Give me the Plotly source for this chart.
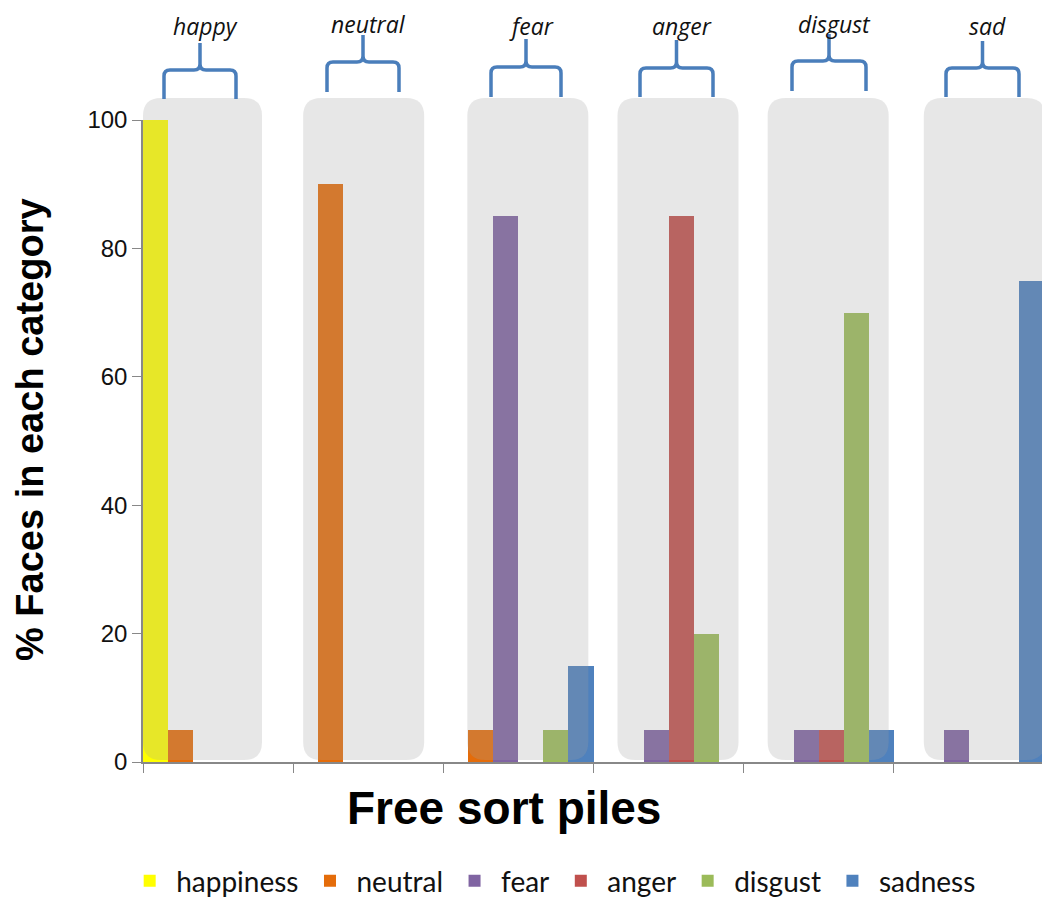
import plotly.graph_objects as go

# ---- data ----
piles = ["happy", "neutral", "fear", "anger", "disgust", "sad"]
emotions = ["happiness", "neutral", "fear", "anger", "disgust", "sadness"]
happiness = [100, 0, 0, 0, 0, 0]
neutral = [5, 90, 5, 0, 0, 0]
fear = [0, 0, 85, 5, 5, 5]
anger = [0, 0, 0, 85, 5, 0]
disgust = [0, 0, 5, 20, 70, 0]
sadness = [0, 0, 15, 0, 5, 75]
y_ticks = [0, 20, 40, 60, 80, 100]

series = [happiness, neutral, fear, anger, disgust, sadness]
colors = ["#ffff00", "#e46c0a", "#8064a2", "#c0504d", "#9bbb59", "#4f81bd"]

# ---- layout geometry (pixels, in reference-image coordinates) ----
OFF = 8  # page body margin
W, H = 1050 - OFF, 900 - OFF
L, R, T, B = 143, 1044, 120, 762
PW, PH = R - L, B - T
GW = PW / len(piles)


def px(x):
    return (x - L) / PW


def py(y):
    return (B - y) / PH


fig = go.Figure()
for name, vals, col in zip(emotions, series, colors):
    fig.add_trace(go.Bar(x=piles, y=vals, name=name, marker=dict(color=col, line=dict(width=0))))

shapes = []
annotations = []

# gray rounded boxes over each pile (semi-transparent overlay)
box_off = [0, 10, 24, 24, 24, 30]
box_w = [119, 121, 121, 121, 121, 121]
for i in range(len(piles)):
    x0 = L + i * GW + box_off[i]
    x1 = x0 + box_w[i]
    y0, y1 = 98, 760
    r = 18
    path = (f"M {px(x0)},{py(y0 + r)} "
            f"Q {px(x0)},{py(y0)} {px(x0 + r)},{py(y0)} "
            f"L {px(x1 - r)},{py(y0)} "
            f"Q {px(x1)},{py(y0)} {px(x1)},{py(y0 + r)} "
            f"L {px(x1)},{py(y1 - r)} "
            f"Q {px(x1)},{py(y1)} {px(x1 - r)},{py(y1)} "
            f"L {px(x0 + r)},{py(y1)} "
            f"Q {px(x0)},{py(y1)} {px(x0)},{py(y1 - r)} Z")
    shapes.append(dict(type="path", path=path, xref="paper", yref="paper",
                       fillcolor="rgba(160,160,160,0.25)", line=dict(width=0), layer="above"))

# braces + labels
brace_left = [164, 327, 491, 640, 792, 946]
brace_right = [236, 399, 561, 713, 866, 1019]
brace_top = [43, 35, 39, 40, 34, 41]
brace_bar = [70, 62, 67, 68, 61, 68]
brace_bottom = [99, 92, 97, 97, 91, 97]
label_y = [26, 24, 26, 26, 24, 26]
for i, p in enumerate(piles):
    xl, xr = brace_left[i], brace_right[i]
    xc = (xl + xr) / 2
    yt, yb, ybot = brace_top[i], brace_bar[i], brace_bottom[i]
    r = 6
    path = (f"M {px(xl)},{py(ybot)} L {px(xl)},{py(yb + r)} "
            f"Q {px(xl)},{py(yb)} {px(xl + r)},{py(yb)} "
            f"L {px(xc - r)},{py(yb)} Q {px(xc)},{py(yb)} {px(xc)},{py(yb - r)} "
            f"L {px(xc)},{py(yt)} "
            f"M {px(xc)},{py(yb - r)} Q {px(xc)},{py(yb)} {px(xc + r)},{py(yb)} "
            f"L {px(xr - r)},{py(yb)} Q {px(xr)},{py(yb)} {px(xr)},{py(yb + r)} "
            f"L {px(xr)},{py(ybot)}")
    shapes.append(dict(type="path", path=path, xref="paper", yref="paper",
                       line=dict(color="#4a7ebb", width=3.5), layer="above"))
    annotations.append(dict(text=f"<i>{p}</i>", x=px(xc + 5), y=py(label_y[i]), xref="paper", yref="paper",
                            showarrow=False, xanchor="center", yanchor="middle",
                            font=dict(family="Open Sans", size=23, color="#111")))

# axis titles
annotations.append(dict(text="<b>Free sort piles</b>", x=px(504), y=py(808), xref="paper", yref="paper",
                        showarrow=False, xanchor="center", yanchor="middle",
                        font=dict(family="Liberation Sans, Arial", size=46, color="#000")))
annotations.append(dict(text="<b>% Faces in each category</b>", x=px(30), y=py(430), xref="paper", yref="paper",
                        showarrow=False, xanchor="center", yanchor="middle", textangle=-90,
                        font=dict(family="Liberation Sans, Arial", size=38, color="#000")))

fig.update_layout(
    width=W, height=H,
    margin=dict(l=L - OFF, r=W - (R - OFF), t=T - OFF, b=H - (B - OFF), autoexpand=False),
    paper_bgcolor="white", plot_bgcolor="white",
    barmode="group", bargap=0, bargroupgap=0,
    shapes=shapes, annotations=annotations,
    showlegend=True,
    legend=dict(orientation="h", x=-0.022, xanchor="left", y=py(881), yanchor="middle",
                itemwidth=43,
                font=dict(family="Lato", size=28, color="#111")),
    xaxis=dict(showticklabels=False, tickson="boundaries", ticks="outside", ticklen=9,
               tickcolor="#888", showline=True, linecolor="#888", linewidth=1.5, showgrid=False,
               range=[-0.5, 5.5], fixedrange=True),
    yaxis=dict(range=[0, 100], tickvals=y_ticks, ticks="outside", ticklen=9, tickcolor="#888",
               showline=True, linecolor="#888", linewidth=1.5, showgrid=False, zeroline=False,
               tickfont=dict(family="Liberation Sans, Arial", size=24, color="#111")),
)

fig.write_html("out.html")
